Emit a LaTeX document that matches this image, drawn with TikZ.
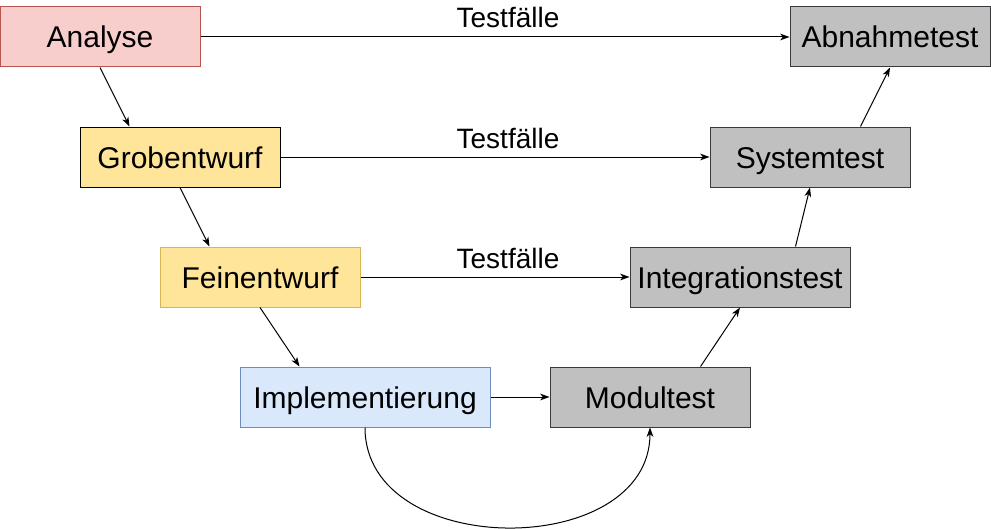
\documentclass[tikz,border=0pt]{standalone}
\usepackage{fontspec}
\setmainfont{Liberation Sans}
\usetikzlibrary{arrows.meta,calc}
\definecolor{redfill}{HTML}{F8CECC}
\definecolor{redline}{HTML}{B85450}
\definecolor{yelfill}{HTML}{FFE599}
\definecolor{yelline}{HTML}{D6B656}
\definecolor{bluefill}{HTML}{DAE8FC}
\definecolor{blueline}{HTML}{6C8EBF}
\definecolor{grayfill}{HTML}{C0C0C0}
\definecolor{grayline}{HTML}{36393D}
\tikzset{
  box/.style={rectangle, inner sep=0pt, minimum width=150pt, minimum height=45pt,
    text height=16.5pt, text depth=0pt,
    line width=0.75pt, font=\fontsize{22.5pt}{26pt}\selectfont},
  conn/.style={line width=0.75pt, -{Stealth[length=7pt,width=5pt,inset=2pt]}},
  lbl/.style={anchor=base, inner sep=0pt, font=\fontsize{21pt}{24pt}\selectfont}
}
\begin{document}
\begin{tikzpicture}[x=0.75pt,y=-0.75pt]
\useasboundingbox (0,0) rectangle (991,528);
\node[box, fill=redfill, draw=redline] (ana) at (100,37) {Analyse};
\node[box, fill=yelfill, draw=black] (grob) at (180,157) {Grobentwurf};
\node[box, fill=yelfill, draw=yelline] (fein) at (260,277) {Feinentwurf};
\node[box, fill=bluefill, draw=blueline, minimum width=187.5pt] (impl) at (365,397) {Implementierung};
\node[box, fill=grayfill, draw=grayline] (mod) at (650,397) {Modultest};
\node[box, fill=grayfill, draw=grayline, minimum width=165pt] (integ) at (740,277) {Integrationstest};
\node[box, fill=grayfill, draw=grayline] (sys) at (810,157) {Systemtest};
\node[box, fill=grayfill, draw=grayline] (abn) at (890,37) {Abnahmetest};

\draw[conn] (ana.south) -- ($(grob.north west)+(50,0)$);
\draw[conn] (grob.south) -- ($(fein.north west)+(50,0)$);
\draw[conn] (fein.south) -- ($(impl.north west)+(60,0)$);
\draw[conn] (impl.east) -- (mod.west);
\draw[conn] ($(mod.north east)+(-50,0)$) -- (integ.south);
\draw[conn] ($(integ.north east)+(-55,0)$) -- (sys.south);
\draw[conn] ($(sys.north east)+(-50,0)$) -- (abn.south);
\draw[conn] (impl.south) .. controls ($(impl.south)+(0,133)$) and ($(mod.south)+(0,133)$) .. (mod.south);

\draw[conn] (ana.east) -- (abn.west);
\draw[conn] (grob.east) -- (sys.west);
\draw[conn] (fein.east) -- (integ.west);
\node[lbl] (t1) at (508,28) {Testfälle};
\node[lbl] (t2) at (508,148) {Testfälle};
\node[lbl] (t3) at (508,268) {Testfälle};
\end{tikzpicture}
\end{document}
